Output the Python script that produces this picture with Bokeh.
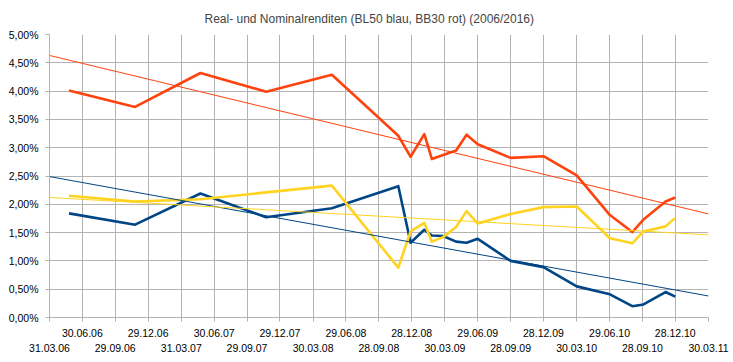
import pandas as pd
from bokeh.plotting import figure
from bokeh.models import FixedTicker, LinearAxis, Range1d, ColumnDataSource
from bokeh.embed import file_html
from bokeh.resources import INLINE

# ---- axis ticks -----------------------------------------------------------
x_tick_dates = ["2006-03-31", "2006-06-30", "2006-09-29", "2006-12-29", "2007-03-31",
                "2007-06-30", "2007-09-29", "2007-12-29", "2008-03-30", "2008-06-29",
                "2008-09-28", "2008-12-28", "2009-03-30", "2009-06-29", "2009-09-28",
                "2009-12-28", "2010-03-30", "2010-06-29", "2010-09-28", "2010-12-28",
                "2011-03-30"]
x_tick_labels = ["31.03.06", "30.06.06", "29.09.06", "29.12.06", "31.03.07",
                 "30.06.07", "29.09.07", "29.12.07", "30.03.08", "29.06.08",
                 "28.09.08", "28.12.08", "30.03.09", "29.06.09", "28.09.09",
                 "28.12.09", "30.03.10", "29.06.10", "28.09.10", "28.12.10",
                 "30.03.11"]
y_tick_values = [0.0, 0.5, 1.0, 1.5, 2.0, 2.5, 3.0, 3.5, 4.0, 4.5, 5.0]
y_tick_labels = ["0,00%", "0,50%", "1,00%", "1,50%", "2,00%", "2,50%",
                 "3,00%", "3,50%", "4,00%", "4,50%", "5,00%"]

# ---- data (percent) -------------------------------------------------------
dates = ["2006-05-24", "2006-11-23", "2007-05-23", "2007-11-21", "2008-05-21",
         "2008-11-21", "2008-12-25", "2009-02-01", "2009-02-22", "2009-03-25",
         "2009-04-30", "2009-05-29", "2009-06-29", "2009-09-28", "2009-12-28",
         "2010-03-30", "2010-06-30", "2010-08-31", "2010-10-01", "2010-12-01",
         "2010-12-28"]
bb30_nominal = [4.01, 3.72, 4.32, 3.99, 4.29, 3.21, 2.84, 3.24, 2.80, 2.87,
                2.95, 3.23, 3.06, 2.82, 2.85, 2.51, 1.81, 1.51, 1.73, 2.05, 2.12]
bl50_real = [1.84, 1.64, 2.19, 1.77, 1.93, 2.32, 1.32, 1.55, 1.45, 1.44,
             1.34, 1.32, 1.39, 1.00, 0.89, 0.55, 0.41, 0.20, 0.23, 0.45, 0.37]
third_series = [2.15, 2.05, 2.09, 2.21, 2.33, 0.88, 1.52, 1.67, 1.34, 1.42,
                1.60, 1.88, 1.66, 1.83, 1.95, 1.96, 1.40, 1.31, 1.52, 1.61, 1.76]

# linear trend lines (values at start and end of the axis)
trend_dates = ["2006-03-31", "2011-03-30"]
trend_red = [4.63, 1.83]
trend_blue = [2.49, 0.38]
trend_yellow = [2.12, 1.46]

RED = "#ff420e"
BLUE = "#004586"
YELLOW = "#ffd320"
GRID = "#b3b3b3"
FONT = "Liberation Sans"


def day(s):
    return (pd.Timestamp(s) - pd.Timestamp("1970-01-01")).days


xt = [day(d) for d in x_tick_dates]
xd = [day(d) for d in dates]
xtr = [day(d) for d in trend_dates]

p = figure(width=733, height=354,
           x_range=Range1d(xt[0], xt[-1]), y_range=Range1d(0, 5),
           output_backend="svg", toolbar_location=None,
           min_border_left=49, min_border_right=25,
           min_border_top=34, min_border_bottom=35,
           title="Real- und Nominalrenditen (BL50 blau, BB30 rot) (2006/2016)")
p.title.text_font = FONT
p.title.text_font_size = "12px"
p.title.text_font_style = "normal"
p.title.align = "left"
p.title.offset = 155
p.title.standoff = 18
p.outline_line_color = None
p.background_fill_color = "white"

# y axis
ya = p.yaxis[0]
ya.ticker = FixedTicker(ticks=y_tick_values)
ya.major_label_overrides = dict(zip(y_tick_values, y_tick_labels))
ya.axis_line_color = GRID
ya.major_tick_line_color = GRID
ya.major_tick_in = 0
ya.major_tick_out = 4
ya.minor_tick_line_color = None
ya.major_label_text_font = FONT
ya.major_label_text_font_size = "10.5px"
ya.major_label_text_color = "black"
ya.major_label_standoff = 7

# x axis: upper row (all ticks, labels on odd positions)
xa = p.xaxis[0]
xa.ticker = FixedTicker(ticks=xt)
xa.major_label_overrides = {t: (lab if i % 2 == 1 else "") for i, (t, lab) in enumerate(zip(xt, x_tick_labels))}
xa.axis_line_color = GRID
xa.major_tick_line_color = GRID
xa.major_tick_in = 0
xa.major_tick_out = 4
xa.minor_tick_line_color = None
xa.major_label_text_font = FONT
xa.major_label_text_font_size = "10.5px"
xa.major_label_text_color = "black"
xa.major_label_standoff = 7

# x axis: lower row (labels on even positions)
xb = LinearAxis(ticker=FixedTicker(ticks=xt[::2]))
xb.major_label_overrides = {t: lab for t, lab in zip(xt[::2], x_tick_labels[::2])}
xb.axis_line_color = None
xb.major_tick_line_color = None
xb.major_tick_in = 0
xb.major_tick_out = 0
xb.minor_tick_line_color = None
xb.major_label_text_font = FONT
xb.major_label_text_font_size = "10.5px"
xb.major_label_text_color = "black"
xb.major_label_standoff = 4
p.add_layout(xb, "below")

p.xgrid.ticker = FixedTicker(ticks=xt)
p.ygrid.ticker = FixedTicker(ticks=y_tick_values)
for g in (p.xgrid, p.ygrid):
    g.grid_line_color = GRID
    g.grid_line_width = 1

src = ColumnDataSource(dict(x=xd, red=bb30_nominal, blue=bl50_real, yellow=third_series))
p.line("x", "blue", source=src, line_color=BLUE, line_width=2.6, line_join="round")
p.line("x", "red", source=src, line_color=RED, line_width=2.6, line_join="round")
p.line("x", "yellow", source=src, line_color=YELLOW, line_width=2.6, line_join="round")

p.line(xtr, trend_red, line_color=RED, line_width=1)
p.line(xtr, trend_blue, line_color=BLUE, line_width=1)
p.line(xtr, trend_yellow, line_color=YELLOW, line_width=1)

open("out.html", "w").write(file_html(p, INLINE))
